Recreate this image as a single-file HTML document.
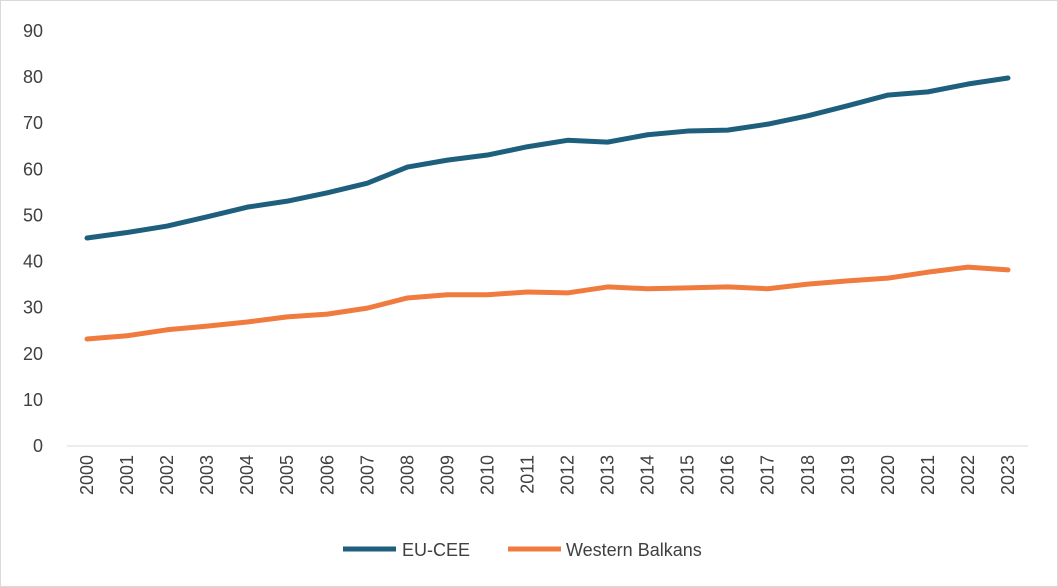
<!DOCTYPE html>
<html><head><meta charset="utf-8"><style>
html,body{margin:0;padding:0;background:#fff;}
svg{display:block;font-family:"Liberation Sans",sans-serif;}
</style></head><body>
<svg id="chart" width="1058" height="587">
<rect x="0.5" y="0.5" width="1057" height="586" fill="#fff" stroke="#d9d9d9"/>
<g id="axes"></g><g id="lines"></g>
<g>
<line x1="343" y1="549" x2="396" y2="549" stroke="#1f5f7e" stroke-width="5"/>
<text x="402" y="556" font-size="18" fill="#404040">EU-CEE</text>
<line x1="508" y1="549" x2="561" y2="549" stroke="#f07b3f" stroke-width="5"/>
<text x="566" y="556" font-size="18" fill="#404040">Western Balkans</text>
</g>
</svg>
<script>
const years=[2000,2001,2002,2003,2004,2005,2006,2007,2008,2009,2010,2011,2012,2013,2014,2015,2016,2017,2018,2019,2020,2021,2022,2023];
const euCee=[45.1,46.3,47.7,49.7,51.8,53.1,54.9,57.0,60.5,62.0,63.1,64.9,66.3,65.9,67.5,68.3,68.5,69.8,71.6,73.8,76.1,76.8,78.5,79.8];
const westernBalkans=[23.2,23.9,25.2,26.0,26.9,28.0,28.6,29.9,32.1,32.8,32.8,33.4,33.2,34.5,34.1,34.3,34.5,34.1,35.1,35.8,36.4,37.7,38.8,38.2];
const yTicks=[0,10,20,30,40,50,60,70,80,90];
const NS='http://www.w3.org/2000/svg';
const x0=87,xStep=(1008-87)/23,yBase=446,yTop=31;
function xs(i){return x0+i*xStep;}
function ys(v){return yBase-(v/90)*(yBase-yTop);}
const axes=document.getElementById('axes'),lines=document.getElementById('lines');
function mk(t,a,p){const e=document.createElementNS(NS,t);for(const k in a)e.setAttribute(k,a[k]);p.appendChild(e);return e;}
yTicks.forEach(v=>{
 const t=mk('text',{x:43,y:ys(v)+6,'text-anchor':'end','font-size':18,fill:'#404040'},axes);
 t.textContent=v;
 
 
});
const ax=mk('line',{x1:67,y1:yBase,x2:1028,y2:yBase,stroke:'#d9d9d9','stroke-width':1},axes);


years.forEach((y,i)=>{
 const t=mk('text',{transform:`translate(${xs(i)+6},${yBase+9}) rotate(-90)`,'text-anchor':'end','font-size':18,fill:'#404040'},axes);
 t.textContent=y;
 
 
});
function series(vals,color,name){
 const p=mk('polyline',{points:vals.map((v,i)=>xs(i)+','+ys(v)).join(' '),fill:'none',stroke:color,'stroke-width':5,'stroke-linejoin':'round','stroke-linecap':'round'},lines);
 
 
}
series(euCee,'#1f5f7e','eu-cee-line');
series(westernBalkans,'#f07b3f','western-balkans-line');
</script>
</body></html>
